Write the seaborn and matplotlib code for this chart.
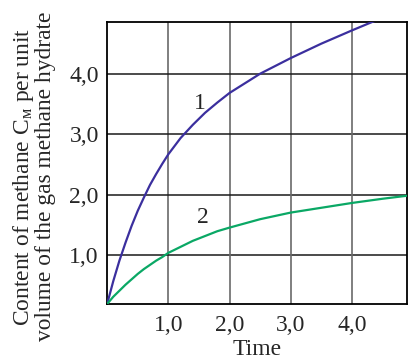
import numpy as np
import pandas as pd
import matplotlib
matplotlib.use('Agg')
import matplotlib.pyplot as plt
import seaborn as sns

# curve 1 (blue) and curve 2 (green)
x1 = [0, 0.1, 0.2, 0.3, 0.4, 0.5, 0.6, 0.7, 0.8, 0.9, 1.0, 1.2, 1.4, 1.6, 1.8,
      2.0, 2.25, 2.5, 2.75, 3.0, 3.5, 4.0, 4.4]
y1 = [0.18, 0.56, 0.90, 1.20, 1.48, 1.73, 1.95, 2.16, 2.34, 2.51, 2.67, 2.94, 3.16, 3.36, 3.53,
      3.69, 3.85, 4.01, 4.14, 4.27, 4.51, 4.73, 4.90]
x2 = [0, 0.1, 0.2, 0.3, 0.4, 0.5, 0.6, 0.7, 0.8, 0.9, 1.0, 1.2, 1.4, 1.6, 1.8,
      2.0, 2.5, 3.0, 3.5, 4.0, 4.5, 4.9]
y2 = [0.18, 0.30, 0.40, 0.50, 0.59, 0.68, 0.76, 0.83, 0.90, 0.96, 1.03, 1.13, 1.23, 1.31, 1.39,
      1.45, 1.59, 1.70, 1.78, 1.86, 1.93, 1.98]
ticks = [1, 2, 3, 4]
tick_labels = ['1,0', '2,0', '3,0', '4,0']

df1 = pd.DataFrame({'t': x1, 'c': y1})
df2 = pd.DataFrame({'t': x2, 'c': y2})

sns.set_style('white')
plt.rcParams['font.family'] = ['Liberation Serif', 'DejaVu Serif']
plt.rcParams['mathtext.fontset'] = 'custom'
plt.rcParams['mathtext.rm'] = 'Liberation Serif'

fig = plt.figure(figsize=(4.09, 3.61), dpi=100)
ax = fig.add_axes([0.262, 0.158, 0.733, 0.781])

for t in ticks:
    ax.axvline(t, color='#6a6a6a', lw=1.2, zorder=1)
    ax.axhline(t, color='#1a1a1a', lw=1.1, zorder=1)

sns.lineplot(data=df1, x='t', y='c', ax=ax, color='#3b2f9e', lw=1.6, zorder=3)
sns.lineplot(data=df2, x='t', y='c', ax=ax, color='#0aa865', lw=1.6, zorder=3)

ax.text(1.52, 3.52, '1', fontsize=17, ha='center', va='center')
ax.text(1.57, 1.61, '2', fontsize=17, ha='center', va='center')

ax.set_xlim(0, 4.9)
ax.set_ylim(0.18, 4.87)
ax.set_xticks(ticks)
ax.set_xticklabels(tick_labels)
ax.set_yticks(ticks)
ax.set_yticklabels(tick_labels)
ax.tick_params(length=0, labelsize=17)
ax.tick_params(axis='x', pad=8)
ax.tick_params(axis='y', pad=6)
ax.set_xlabel('Time', fontsize=17, labelpad=2)
ax.set_ylabel('Content of methane C$_{\\mathregular{м}}$ per unit\nvolume of the gas methane hydrate',
              fontsize=16.9, linespacing=0.95)
ax.yaxis.set_label_coords(-0.17, 0.452)
for s in ax.spines.values():
    s.set_color('black')
    s.set_linewidth(1.3)

fig.savefig('out.png', dpi=100)
